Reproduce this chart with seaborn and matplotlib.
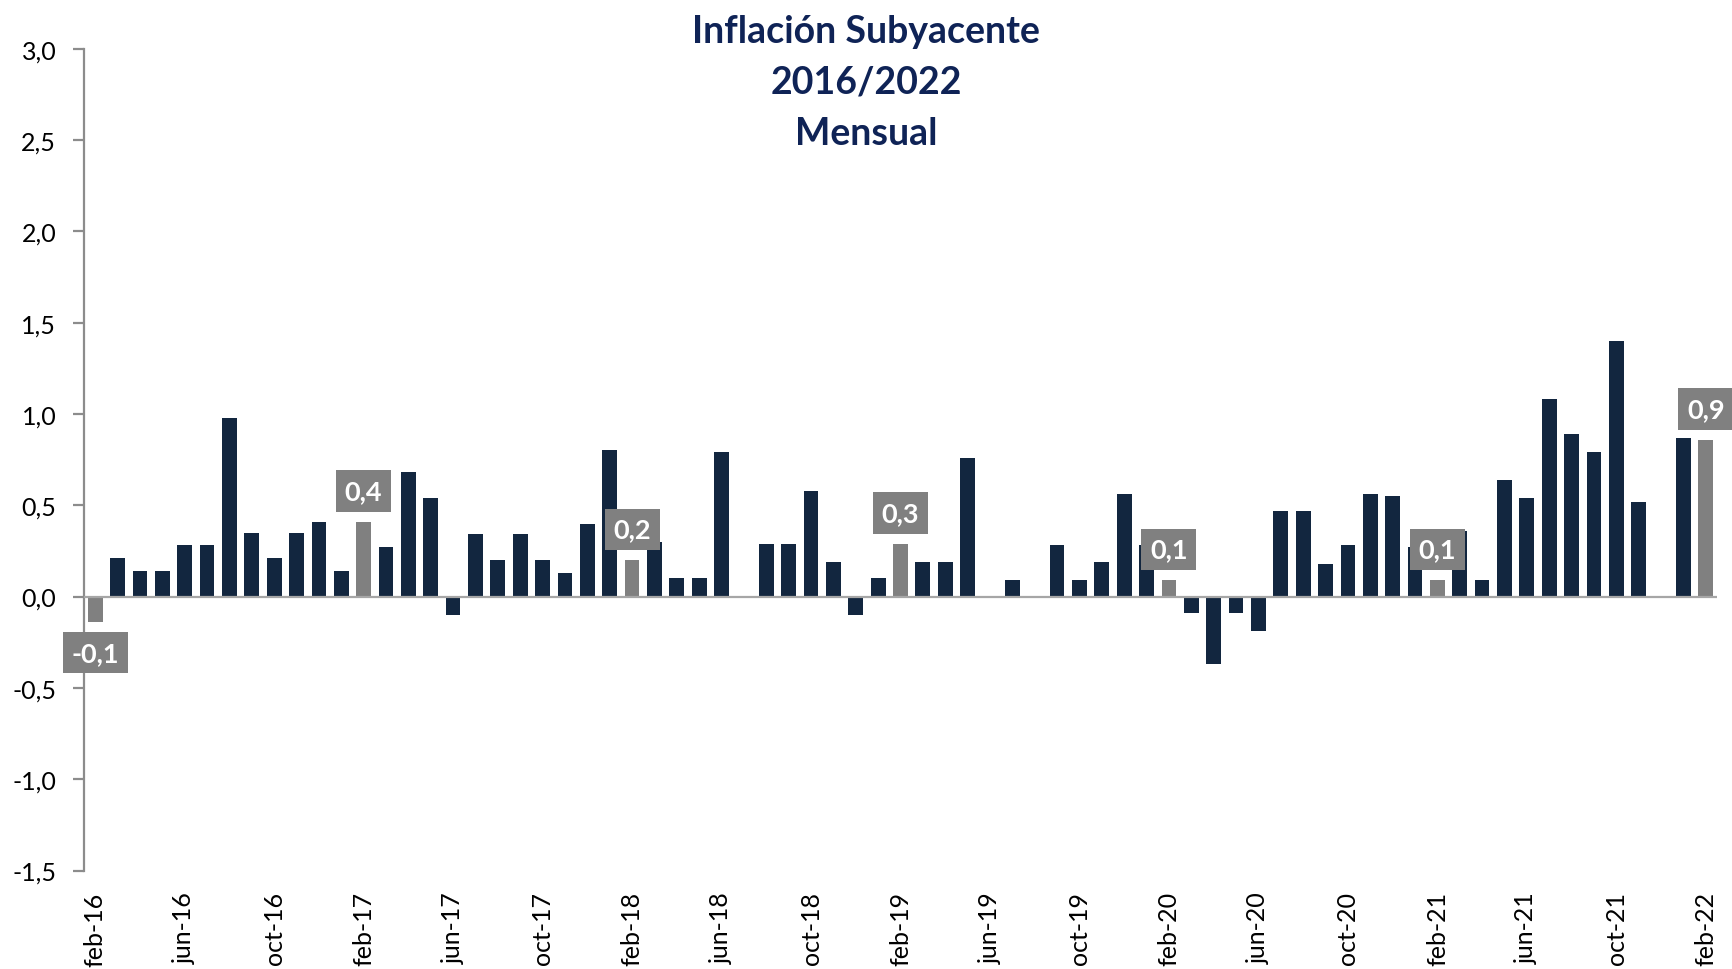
import pandas as pd
import seaborn as sns
import matplotlib.pyplot as plt

# meses feb-16 .. feb-22
abrevs = ["ene", "feb", "mar", "abr", "may", "jun", "jul", "ago", "sep", "oct", "nov", "dic"]
meses = [f"{abrevs[m]}-{a % 100:02d}" for a in range(2016, 2023) for m in range(12)]
meses = meses[1:meses.index("feb-22") + 1]

# variación mensual de la inflación subyacente (%)
valores = [
    -0.14, 0.21, 0.14, 0.14, 0.28, 0.28, 0.98, 0.35, 0.21, 0.35, 0.41,   # feb-16 .. dic-16
    0.14, 0.41, 0.27, 0.68, 0.54, -0.10, 0.34, 0.20, 0.34, 0.20, 0.13, 0.40,  # 2017
    0.80, 0.20, 0.30, 0.10, 0.10, 0.79, 0.00, 0.29, 0.29, 0.58, 0.19, -0.10,  # 2018
    0.10, 0.29, 0.19, 0.19, 0.76, 0.00, 0.09, 0.00, 0.28, 0.09, 0.19, 0.56,   # 2019
    0.28, 0.09, -0.09, -0.37, -0.09, -0.19, 0.47, 0.47, 0.18, 0.28, 0.56, 0.55,  # 2020
    0.27, 0.09, 0.36, 0.09, 0.64, 0.54, 1.08, 0.89, 0.79, 1.40, 0.52, 0.00,   # 2021
    0.87, 0.86,                                                              # 2022
]

yticks = [-1.5, -1.0, -0.5, 0.0, 0.5, 1.0, 1.5, 2.0, 2.5, 3.0]
titulo = ["Inflación Subyacente", "2016/2022", "Mensual"]

azul = "#12263f"
gris = "#808080"

df = pd.DataFrame({"mes": meses, "valor": valores})
df["grupo"] = ["feb" if m.startswith("feb") else "otro" for m in df["mes"]]

fig = plt.figure(figsize=(17.32, 9.70), dpi=100)
ax = fig.add_axes([84 / 1732, 1 - 871.5 / 970, (1717 - 84) / 1732, (871.5 - 49.7) / 970])

sns.barplot(data=df, x="mes", y="valor", hue="grupo", order=meses,
            palette={"otro": azul, "feb": gris}, dodge=False, width=0.66,
            saturation=1, legend=False, ax=ax, linewidth=0)

ax.axhline(0, color="#a6a6a6", lw=1.6, zorder=3)
ax.set_xlim(-0.5, len(meses) - 0.5)
ax.set_ylim(-1.5, 3.0)
ax.set_yticks(yticks)
ax.set_yticklabels([f"{t:.1f}".replace(".", ",") for t in yticks])
ax.set_xticks(range(0, len(meses), 4))
ax.set_xticklabels(meses[::4], rotation=90)
ax.set_xlabel("")
ax.set_ylabel("")

for s in ["top", "right", "bottom"]:
    ax.spines[s].set_visible(False)
ax.spines["left"].set_color("#8c8c8c")
ax.spines["left"].set_linewidth(1.6)
ax.tick_params(axis="y", length=8, width=1.6, color="#8c8c8c", pad=12, labelsize=18)
ax.tick_params(axis="x", length=0, pad=15, labelsize=18)
for lab in ax.get_xticklabels() + ax.get_yticklabels():
    lab.set_fontfamily("Lato")

# etiquetas de los meses de febrero
for i, (m, v) in enumerate(zip(meses, valores)):
    if not m.startswith("feb"):
        continue
    off = 22 if v >= 0 else -22
    ax.annotate(f"{v:.1f}".replace(".", ","), (i, v), xytext=(0, off),
                textcoords="offset points", ha="center", va="center",
                fontsize=19.5, fontfamily="Lato", fontweight="bold", color="white",
                bbox=dict(boxstyle="square,pad=0.32", fc=gris, ec="none"),
                annotation_clip=False, zorder=5)

# título en tres líneas (líneas base en píxeles desde arriba)
for linea, base in zip(titulo, [43, 93, 145]):
    fig.text(0.5, 1 - base / 970, linea, ha="center", va="baseline",
             fontsize=27, fontweight="bold", fontfamily="Lato", color="#0f2356")

fig.savefig("out.png", dpi=100)
